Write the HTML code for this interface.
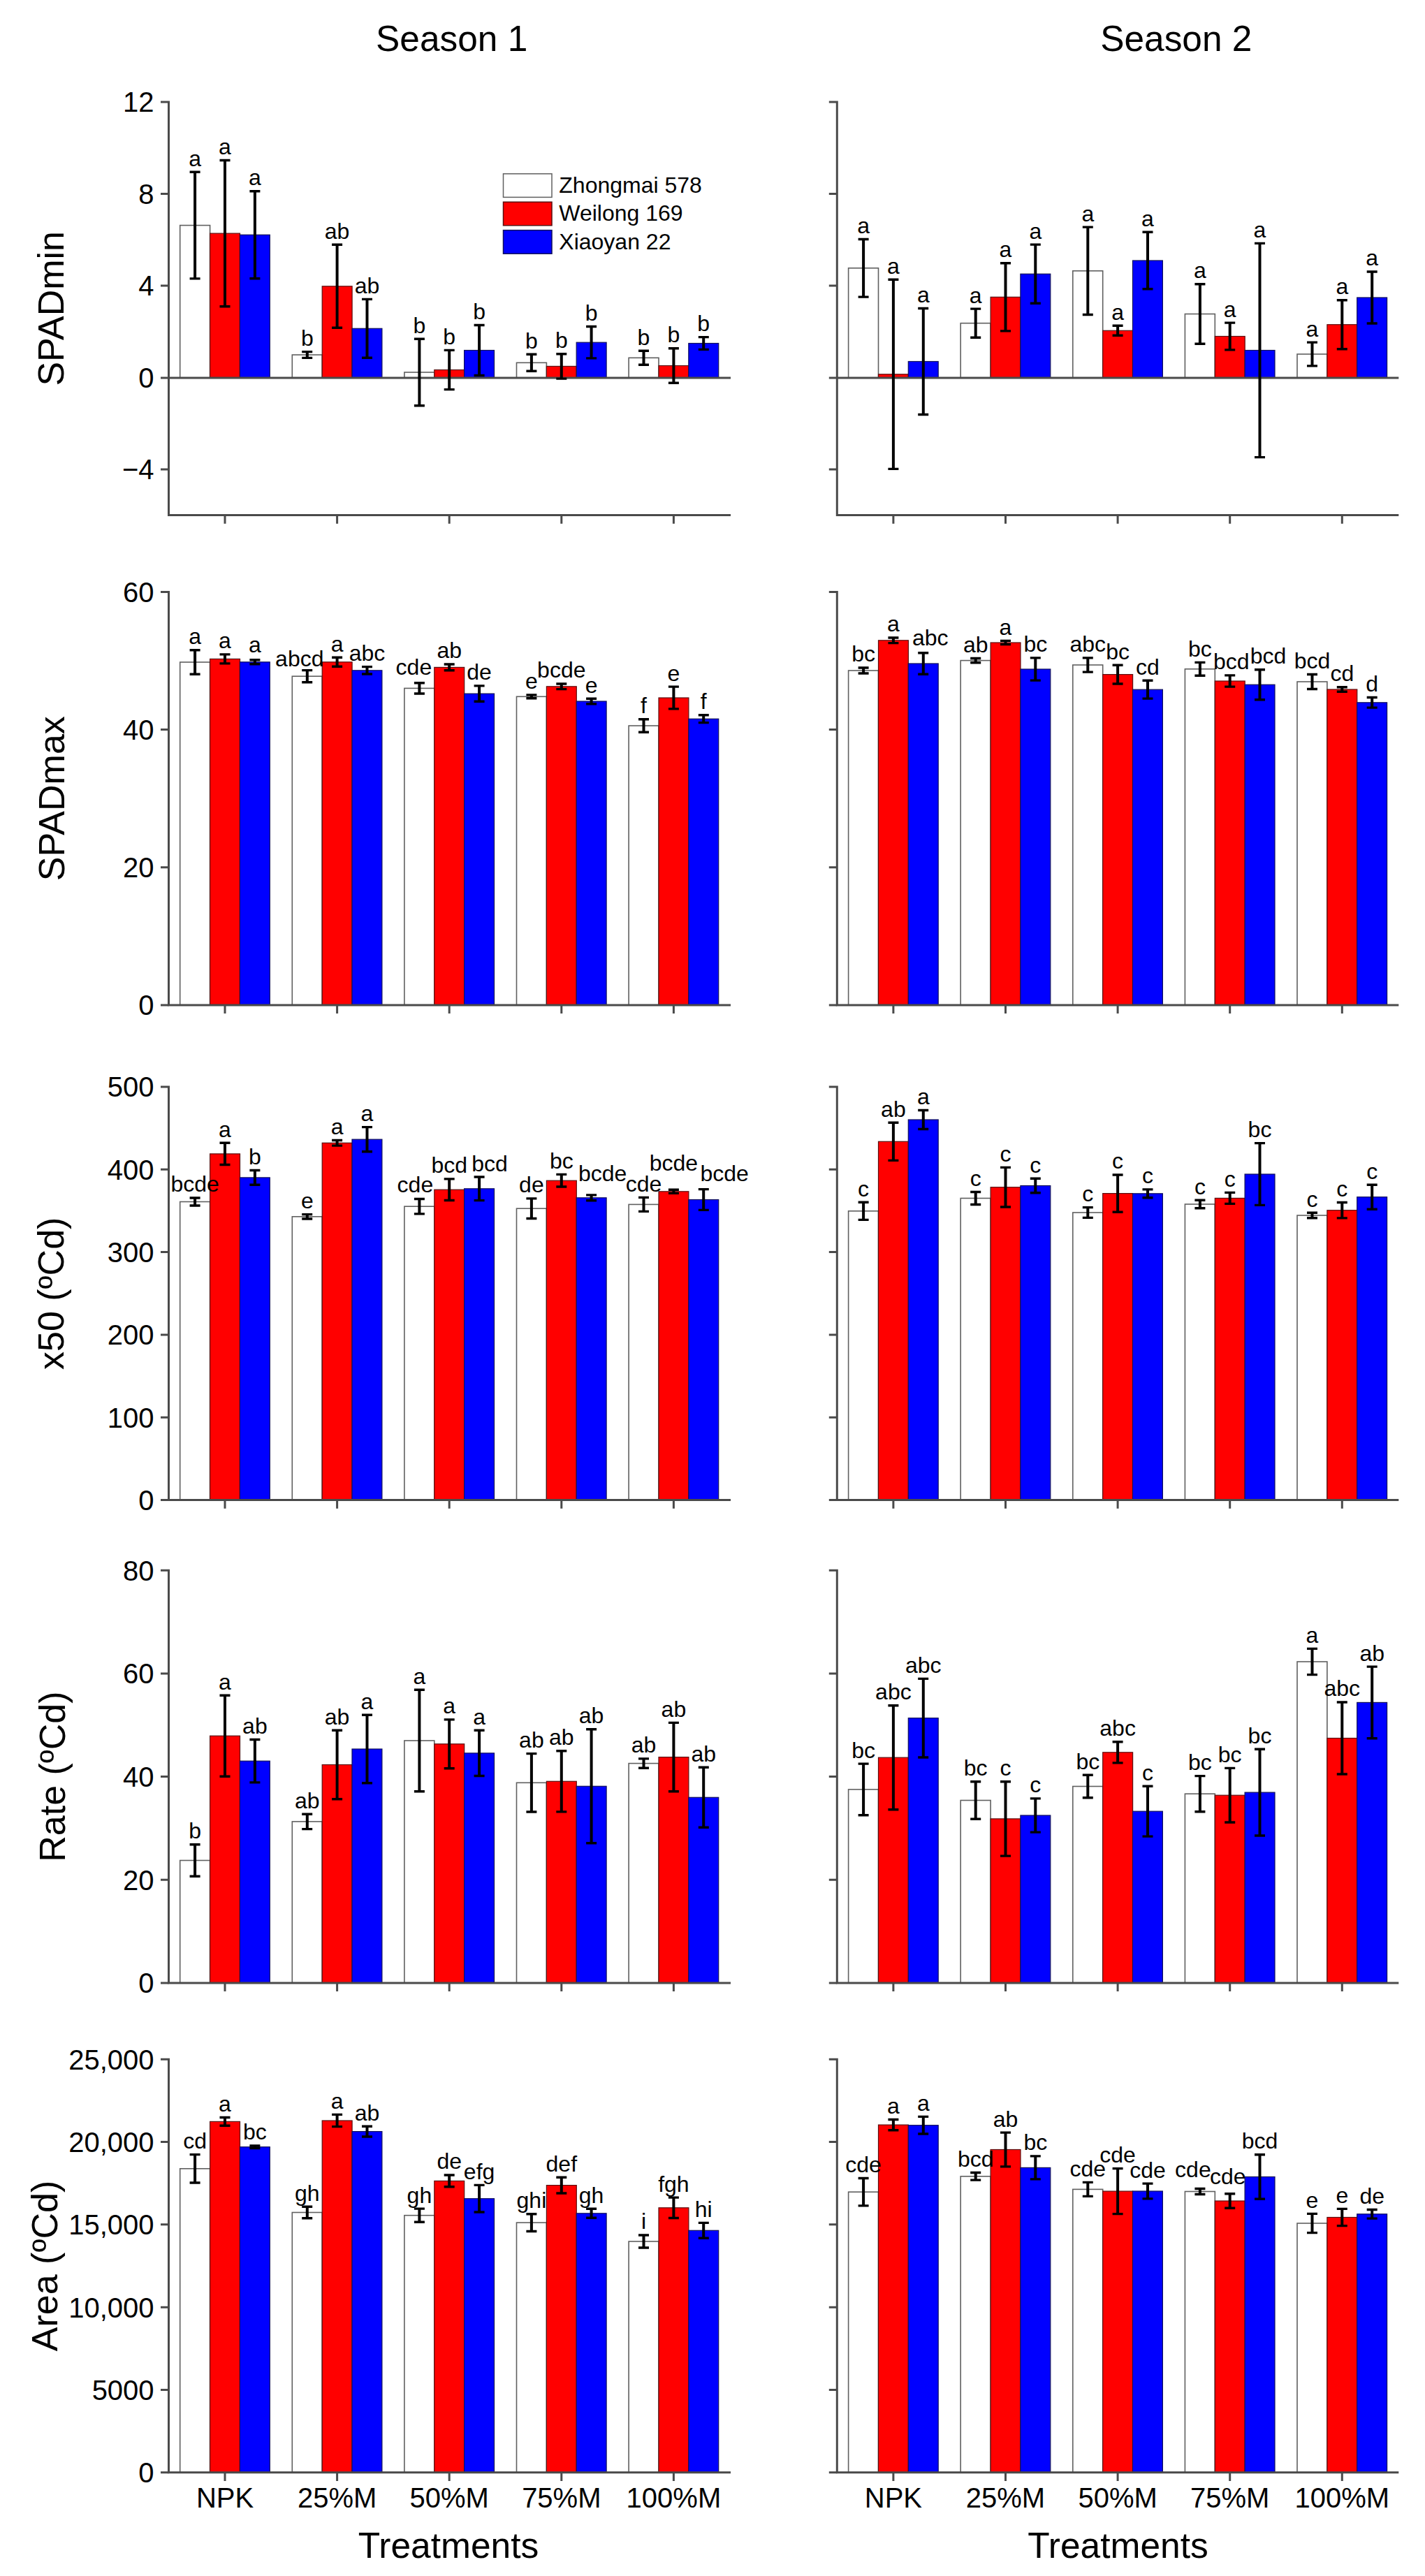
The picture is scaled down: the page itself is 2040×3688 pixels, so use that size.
<!DOCTYPE html>
<html lang="en"><head><meta charset="utf-8"><title>Figure</title>
<style>html,body{margin:0;padding:0;background:#fff}svg{display:block}</style></head>
<body>
<svg width="2040" height="3688" viewBox="0 0 2040 3688" font-family='"Liberation Sans", sans-serif' fill="#000">
<rect width="2040" height="3688" fill="#fff"/>
<text x="538.1" y="73.0" font-size="51.4">Season 1</text>
<text x="1575.2" y="72.8" font-size="51.4">Season 2</text>
<text x="642" y="3661.8" font-size="51.5" text-anchor="middle">Treatments</text>
<text x="1600.5" y="3661.8" font-size="51.5" text-anchor="middle">Treatments</text>
<text transform="translate(91.2 441.8) rotate(-90)" font-size="52" text-anchor="middle">SPADmin</text>
<g><rect x="257.7" y="322.6" width="42.9" height="218.4" fill="#ffffff" stroke="#606060" stroke-width="1.6"/><rect x="300.6" y="334.1" width="42.9" height="206.9" fill="#ff0000" stroke="#5a1010" stroke-width="1.2"/><rect x="343.4" y="336.2" width="42.9" height="204.8" fill="#0000ff" stroke="#10105a" stroke-width="1.2"/><rect x="418.3" y="508.0" width="42.9" height="33.0" fill="#ffffff" stroke="#606060" stroke-width="1.6"/><rect x="461.2" y="409.8" width="42.9" height="131.2" fill="#ff0000" stroke="#5a1010" stroke-width="1.2"/><rect x="504.0" y="470.3" width="42.9" height="70.7" fill="#0000ff" stroke="#10105a" stroke-width="1.2"/><rect x="578.9" y="533.0" width="42.9" height="8.0" fill="#ffffff" stroke="#606060" stroke-width="1.6"/><rect x="621.8" y="529.5" width="42.9" height="11.5" fill="#ff0000" stroke="#5a1010" stroke-width="1.2"/><rect x="664.6" y="501.5" width="42.9" height="39.5" fill="#0000ff" stroke="#10105a" stroke-width="1.2"/><rect x="739.5" y="519.3" width="42.9" height="21.7" fill="#ffffff" stroke="#606060" stroke-width="1.6"/><rect x="782.4" y="524.4" width="42.9" height="16.6" fill="#ff0000" stroke="#5a1010" stroke-width="1.2"/><rect x="825.2" y="490.2" width="42.9" height="50.8" fill="#0000ff" stroke="#10105a" stroke-width="1.2"/><rect x="900.1" y="512.3" width="42.9" height="28.7" fill="#ffffff" stroke="#606060" stroke-width="1.6"/><rect x="943.0" y="523.5" width="42.9" height="17.5" fill="#ff0000" stroke="#5a1010" stroke-width="1.2"/><rect x="985.8" y="491.5" width="42.9" height="49.5" fill="#0000ff" stroke="#10105a" stroke-width="1.2"/><path d="M230.0 146.0H241.5V737.6H1046.0" fill="none" stroke="#4a4a4a" stroke-width="3.0" stroke-linecap="butt" stroke-linejoin="miter"/><path d="M241.5 541.0H1046.0" stroke="#4a4a4a" stroke-width="3.0"/><path d="M230.0 277.5H241.5M230.0 408.9H241.5M230.0 541.0H241.5M230.0 671.9H241.5M322.0 737.6v12.1M482.6 737.6v12.1M643.2 737.6v12.1M803.8 737.6v12.1M964.4 737.6v12.1" stroke="#4a4a4a" stroke-width="3.0" fill="none"/><text transform="translate(220.6 160.3) scale(1 1.03)" font-size="40" text-anchor="end">12</text><text transform="translate(220.6 291.8) scale(1 1.03)" font-size="40" text-anchor="end">8</text><text transform="translate(220.6 423.2) scale(1 1.03)" font-size="40" text-anchor="end">4</text><text transform="translate(220.6 555.3) scale(1 1.03)" font-size="40" text-anchor="end">0</text><text transform="translate(220.6 686.2) scale(1 1.03)" font-size="40" text-anchor="end">−4</text><path d="M279.1 246.3V398.9M322.0 229.5V438.7M364.9 273.7V398.7M439.8 503.6V512.4M482.6 350.3V469.3M525.5 428.4V512.2M600.4 485.3V580.7M643.2 501.4V557.6M686.1 465.5V537.5M760.9 507.3V531.3M803.8 506.7V542.1M846.6 467.5V512.9M921.5 502.3V522.3M964.4 498.8V548.2M1007.2 482.6V500.4" stroke="#000" stroke-width="4.0" fill="none"/><path d="M271.6 246.3h15M271.6 398.9h15M314.5 229.5h15M314.5 438.7h15M357.4 273.7h15M357.4 398.7h15M432.2 503.6h15M432.2 512.4h15M475.1 350.3h15M475.1 469.3h15M518.0 428.4h15M518.0 512.2h15M592.9 485.3h15M592.9 580.7h15M635.7 501.4h15M635.7 557.6h15M678.6 465.5h15M678.6 537.5h15M753.4 507.3h15M753.4 531.3h15M796.3 506.7h15M796.3 542.1h15M839.1 467.5h15M839.1 512.9h15M914.0 502.3h15M914.0 522.3h15M956.9 498.8h15M956.9 548.2h15M999.8 482.6h15M999.8 500.4h15" stroke="#000" stroke-width="3.4" fill="none"/><text x="279.1" y="237.7" font-size="32" text-anchor="middle">a</text><text x="322.0" y="220.9" font-size="32" text-anchor="middle">a</text><text x="364.9" y="265.1" font-size="32" text-anchor="middle">a</text><text x="439.8" y="495.0" font-size="32" text-anchor="middle">b</text><text x="482.6" y="341.7" font-size="32" text-anchor="middle">ab</text><text x="525.5" y="419.8" font-size="32" text-anchor="middle">ab</text><text x="600.4" y="476.7" font-size="32" text-anchor="middle">b</text><text x="643.2" y="492.8" font-size="32" text-anchor="middle">b</text><text x="686.1" y="456.9" font-size="32" text-anchor="middle">b</text><text x="760.9" y="498.7" font-size="32" text-anchor="middle">b</text><text x="803.8" y="498.1" font-size="32" text-anchor="middle">b</text><text x="846.6" y="458.9" font-size="32" text-anchor="middle">b</text><text x="921.5" y="493.7" font-size="32" text-anchor="middle">b</text><text x="964.4" y="490.2" font-size="32" text-anchor="middle">b</text><text x="1007.2" y="474.0" font-size="32" text-anchor="middle">b</text></g>
<g><rect x="1214.6" y="383.8" width="42.9" height="157.2" fill="#ffffff" stroke="#606060" stroke-width="1.6"/><rect x="1257.5" y="535.8" width="42.9" height="5.2" fill="#ff0000" stroke="#5a1010" stroke-width="1.2"/><rect x="1300.3" y="517.5" width="42.9" height="23.5" fill="#0000ff" stroke="#10105a" stroke-width="1.2"/><rect x="1375.2" y="462.7" width="42.9" height="78.3" fill="#ffffff" stroke="#606060" stroke-width="1.6"/><rect x="1418.1" y="425.3" width="42.9" height="115.7" fill="#ff0000" stroke="#5a1010" stroke-width="1.2"/><rect x="1460.9" y="392.2" width="42.9" height="148.8" fill="#0000ff" stroke="#10105a" stroke-width="1.2"/><rect x="1535.8" y="387.8" width="42.9" height="153.2" fill="#ffffff" stroke="#606060" stroke-width="1.6"/><rect x="1578.7" y="473.3" width="42.9" height="67.7" fill="#ff0000" stroke="#5a1010" stroke-width="1.2"/><rect x="1621.5" y="373.0" width="42.9" height="168.0" fill="#0000ff" stroke="#10105a" stroke-width="1.2"/><rect x="1696.4" y="449.5" width="42.9" height="91.5" fill="#ffffff" stroke="#606060" stroke-width="1.6"/><rect x="1739.3" y="481.5" width="42.9" height="59.5" fill="#ff0000" stroke="#5a1010" stroke-width="1.2"/><rect x="1782.1" y="501.5" width="42.9" height="39.5" fill="#0000ff" stroke="#10105a" stroke-width="1.2"/><rect x="1857.0" y="507.0" width="42.9" height="34.0" fill="#ffffff" stroke="#606060" stroke-width="1.6"/><rect x="1899.9" y="464.7" width="42.9" height="76.3" fill="#ff0000" stroke="#5a1010" stroke-width="1.2"/><rect x="1942.7" y="426.0" width="42.9" height="115.0" fill="#0000ff" stroke="#10105a" stroke-width="1.2"/><path d="M1186.8 146.0H1198.3V737.6H2002.3" fill="none" stroke="#4a4a4a" stroke-width="3.0" stroke-linecap="butt" stroke-linejoin="miter"/><path d="M1198.3 541.0H2002.3" stroke="#4a4a4a" stroke-width="3.0"/><path d="M1186.8 277.5H1198.3M1186.8 408.9H1198.3M1186.8 541.0H1198.3M1186.8 671.9H1198.3M1278.9 737.6v12.1M1439.5 737.6v12.1M1600.1 737.6v12.1M1760.7 737.6v12.1M1921.3 737.6v12.1" stroke="#4a4a4a" stroke-width="3.0" fill="none"/><path d="M1236.1 342.5V425.1M1278.9 400.2V671.4M1321.8 441.5V593.5M1396.7 442.1V483.3M1439.5 376.7V473.9M1482.3 350.1V434.3M1557.3 325.1V450.5M1600.1 466.3V480.3M1643.0 332.2V413.8M1717.9 406.7V492.3M1760.7 462.1V500.9M1803.5 348.4V654.6M1878.5 490.1V523.9M1921.3 429.7V499.7M1964.2 389.0V463.0" stroke="#000" stroke-width="4.0" fill="none"/><path d="M1228.6 342.5h15M1228.6 425.1h15M1271.4 400.2h15M1271.4 671.4h15M1314.2 441.5h15M1314.2 593.5h15M1389.2 442.1h15M1389.2 483.3h15M1432.0 376.7h15M1432.0 473.9h15M1474.8 350.1h15M1474.8 434.3h15M1549.8 325.1h15M1549.8 450.5h15M1592.6 466.3h15M1592.6 480.3h15M1635.5 332.2h15M1635.5 413.8h15M1710.4 406.7h15M1710.4 492.3h15M1753.2 462.1h15M1753.2 500.9h15M1796.0 348.4h15M1796.0 654.6h15M1871.0 490.1h15M1871.0 523.9h15M1913.8 429.7h15M1913.8 499.7h15M1956.7 389.0h15M1956.7 463.0h15" stroke="#000" stroke-width="3.4" fill="none"/><text x="1236.1" y="333.9" font-size="32" text-anchor="middle">a</text><text x="1278.9" y="391.6" font-size="32" text-anchor="middle">a</text><text x="1321.8" y="432.9" font-size="32" text-anchor="middle">a</text><text x="1396.7" y="433.5" font-size="32" text-anchor="middle">a</text><text x="1439.5" y="368.1" font-size="32" text-anchor="middle">a</text><text x="1482.3" y="341.5" font-size="32" text-anchor="middle">a</text><text x="1557.3" y="316.5" font-size="32" text-anchor="middle">a</text><text x="1600.1" y="457.7" font-size="32" text-anchor="middle">a</text><text x="1643.0" y="323.6" font-size="32" text-anchor="middle">a</text><text x="1717.9" y="398.1" font-size="32" text-anchor="middle">a</text><text x="1760.7" y="453.5" font-size="32" text-anchor="middle">a</text><text x="1803.5" y="339.8" font-size="32" text-anchor="middle">a</text><text x="1878.5" y="481.5" font-size="32" text-anchor="middle">a</text><text x="1921.3" y="421.1" font-size="32" text-anchor="middle">a</text><text x="1964.2" y="380.4" font-size="32" text-anchor="middle">a</text></g>
<text transform="translate(91.6 1143.2) rotate(-90)" font-size="52" text-anchor="middle">SPADmax</text>
<g><rect x="257.7" y="948.0" width="42.9" height="490.9" fill="#ffffff" stroke="#606060" stroke-width="1.6"/><rect x="300.6" y="943.4" width="42.9" height="495.5" fill="#ff0000" stroke="#5a1010" stroke-width="1.2"/><rect x="343.4" y="947.8" width="42.9" height="491.1" fill="#0000ff" stroke="#10105a" stroke-width="1.2"/><rect x="418.3" y="968.2" width="42.9" height="470.7" fill="#ffffff" stroke="#606060" stroke-width="1.6"/><rect x="461.2" y="947.8" width="42.9" height="491.1" fill="#ff0000" stroke="#5a1010" stroke-width="1.2"/><rect x="504.0" y="959.8" width="42.9" height="479.1" fill="#0000ff" stroke="#10105a" stroke-width="1.2"/><rect x="578.9" y="985.4" width="42.9" height="453.5" fill="#ffffff" stroke="#606060" stroke-width="1.6"/><rect x="621.8" y="955.4" width="42.9" height="483.5" fill="#ff0000" stroke="#5a1010" stroke-width="1.2"/><rect x="664.6" y="993.1" width="42.9" height="445.8" fill="#0000ff" stroke="#10105a" stroke-width="1.2"/><rect x="739.5" y="997.3" width="42.9" height="441.6" fill="#ffffff" stroke="#606060" stroke-width="1.6"/><rect x="782.4" y="982.8" width="42.9" height="456.1" fill="#ff0000" stroke="#5a1010" stroke-width="1.2"/><rect x="825.2" y="1004.0" width="42.9" height="434.9" fill="#0000ff" stroke="#10105a" stroke-width="1.2"/><rect x="900.1" y="1039.0" width="42.9" height="399.9" fill="#ffffff" stroke="#606060" stroke-width="1.6"/><rect x="943.0" y="999.0" width="42.9" height="439.9" fill="#ff0000" stroke="#5a1010" stroke-width="1.2"/><rect x="985.8" y="1029.2" width="42.9" height="409.7" fill="#0000ff" stroke="#10105a" stroke-width="1.2"/><path d="M230.0 847.4H241.5V1438.9H1046.0" fill="none" stroke="#4a4a4a" stroke-width="3.0" stroke-linecap="butt" stroke-linejoin="miter"/><path d="M230.0 1044.6H241.5M230.0 1241.7H241.5M230.0 1438.9H241.5M322.0 1438.9v12.1M482.6 1438.9v12.1M643.2 1438.9v12.1M803.8 1438.9v12.1M964.4 1438.9v12.1" stroke="#4a4a4a" stroke-width="3.0" fill="none"/><text transform="translate(220.6 861.7) scale(1 1.03)" font-size="40" text-anchor="end">60</text><text transform="translate(220.6 1058.9) scale(1 1.03)" font-size="40" text-anchor="end">40</text><text transform="translate(220.6 1256.0) scale(1 1.03)" font-size="40" text-anchor="end">20</text><text transform="translate(220.6 1453.2) scale(1 1.03)" font-size="40" text-anchor="end">0</text><path d="M279.1 930.7V965.3M322.0 936.9V949.9M364.9 944.8V950.8M439.8 959.6V976.8M482.6 941.3V954.3M525.5 954.6V965.0M600.4 977.8V993.0M643.2 951.0V959.8M686.1 981.9V1004.3M760.9 994.9V999.7M803.8 979.0V986.6M846.6 1000.2V1007.8M921.5 1029.7V1048.3M964.4 983.1V1014.9M1007.2 1023.8V1034.6" stroke="#000" stroke-width="4.0" fill="none"/><path d="M271.6 930.7h15M271.6 965.3h15M314.5 936.9h15M314.5 949.9h15M357.4 944.8h15M357.4 950.8h15M432.2 959.6h15M432.2 976.8h15M475.1 941.3h15M475.1 954.3h15M518.0 954.6h15M518.0 965.0h15M592.9 977.8h15M592.9 993.0h15M635.7 951.0h15M635.7 959.8h15M678.6 981.9h15M678.6 1004.3h15M753.4 994.9h15M753.4 999.7h15M796.3 979.0h15M796.3 986.6h15M839.1 1000.2h15M839.1 1007.8h15M914.0 1029.7h15M914.0 1048.3h15M956.9 983.1h15M956.9 1014.9h15M999.8 1023.8h15M999.8 1034.6h15" stroke="#000" stroke-width="3.4" fill="none"/><text x="279.1" y="922.1" font-size="32" text-anchor="middle">a</text><text x="322.0" y="928.3" font-size="32" text-anchor="middle">a</text><text x="364.9" y="933.5" font-size="32" text-anchor="middle">a</text><text x="428.8" y="953.7" font-size="32" text-anchor="middle">abcd</text><text x="482.6" y="932.7" font-size="32" text-anchor="middle">a</text><text x="525.5" y="946.0" font-size="32" text-anchor="middle">abc</text><text x="592.4" y="965.5" font-size="32" text-anchor="middle">cde</text><text x="643.2" y="942.4" font-size="32" text-anchor="middle">ab</text><text x="686.1" y="973.3" font-size="32" text-anchor="middle">de</text><text x="760.9" y="986.3" font-size="32" text-anchor="middle">e</text><text x="803.8" y="970.4" font-size="32" text-anchor="middle">bcde</text><text x="846.6" y="991.6" font-size="32" text-anchor="middle">e</text><text x="921.5" y="1021.1" font-size="32" text-anchor="middle">f</text><text x="964.4" y="974.5" font-size="32" text-anchor="middle">e</text><text x="1007.2" y="1015.2" font-size="32" text-anchor="middle">f</text></g>
<g><rect x="1214.6" y="960.0" width="42.9" height="478.9" fill="#ffffff" stroke="#606060" stroke-width="1.6"/><rect x="1257.5" y="916.8" width="42.9" height="522.1" fill="#ff0000" stroke="#5a1010" stroke-width="1.2"/><rect x="1300.3" y="950.0" width="42.9" height="488.9" fill="#0000ff" stroke="#10105a" stroke-width="1.2"/><rect x="1375.2" y="945.6" width="42.9" height="493.3" fill="#ffffff" stroke="#606060" stroke-width="1.6"/><rect x="1418.1" y="920.0" width="42.9" height="518.9" fill="#ff0000" stroke="#5a1010" stroke-width="1.2"/><rect x="1460.9" y="958.0" width="42.9" height="480.9" fill="#0000ff" stroke="#10105a" stroke-width="1.2"/><rect x="1535.8" y="952.0" width="42.9" height="486.9" fill="#ffffff" stroke="#606060" stroke-width="1.6"/><rect x="1578.7" y="965.6" width="42.9" height="473.3" fill="#ff0000" stroke="#5a1010" stroke-width="1.2"/><rect x="1621.5" y="987.2" width="42.9" height="451.7" fill="#0000ff" stroke="#10105a" stroke-width="1.2"/><rect x="1696.4" y="957.8" width="42.9" height="481.1" fill="#ffffff" stroke="#606060" stroke-width="1.6"/><rect x="1739.3" y="975.0" width="42.9" height="463.9" fill="#ff0000" stroke="#5a1010" stroke-width="1.2"/><rect x="1782.1" y="980.2" width="42.9" height="458.7" fill="#0000ff" stroke="#10105a" stroke-width="1.2"/><rect x="1857.0" y="976.0" width="42.9" height="462.9" fill="#ffffff" stroke="#606060" stroke-width="1.6"/><rect x="1899.9" y="987.0" width="42.9" height="451.9" fill="#ff0000" stroke="#5a1010" stroke-width="1.2"/><rect x="1942.7" y="1005.8" width="42.9" height="433.1" fill="#0000ff" stroke="#10105a" stroke-width="1.2"/><path d="M1186.8 847.4H1198.3V1438.9H2002.3" fill="none" stroke="#4a4a4a" stroke-width="3.0" stroke-linecap="butt" stroke-linejoin="miter"/><path d="M1186.8 1044.6H1198.3M1186.8 1241.7H1198.3M1186.8 1438.9H1198.3M1278.9 1438.9v12.1M1439.5 1438.9v12.1M1600.1 1438.9v12.1M1760.7 1438.9v12.1M1921.3 1438.9v12.1" stroke="#4a4a4a" stroke-width="3.0" fill="none"/><path d="M1236.1 956.0V964.0M1278.9 913.0V920.6M1321.8 934.8V965.2M1396.7 942.5V948.7M1439.5 917.4V922.6M1482.3 941.9V974.1M1557.3 941.9V962.1M1600.1 952.2V979.0M1643.0 974.3V1000.1M1717.9 948.4V967.2M1760.7 966.9V983.1M1803.5 958.7V1001.7M1878.5 965.5V986.5M1921.3 983.7V990.3M1964.2 998.5V1013.1" stroke="#000" stroke-width="4.0" fill="none"/><path d="M1228.6 956.0h15M1228.6 964.0h15M1271.4 913.0h15M1271.4 920.6h15M1314.2 934.8h15M1314.2 965.2h15M1389.2 942.5h15M1389.2 948.7h15M1432.0 917.4h15M1432.0 922.6h15M1474.8 941.9h15M1474.8 974.1h15M1549.8 941.9h15M1549.8 962.1h15M1592.6 952.2h15M1592.6 979.0h15M1635.5 974.3h15M1635.5 1000.1h15M1710.4 948.4h15M1710.4 967.2h15M1753.2 966.9h15M1753.2 983.1h15M1796.0 958.7h15M1796.0 1001.7h15M1871.0 965.5h15M1871.0 986.5h15M1913.8 983.7h15M1913.8 990.3h15M1956.7 998.5h15M1956.7 1013.1h15" stroke="#000" stroke-width="3.4" fill="none"/><text x="1236.1" y="947.4" font-size="32" text-anchor="middle">bc</text><text x="1278.9" y="904.4" font-size="32" text-anchor="middle">a</text><text x="1331.8" y="923.6" font-size="32" text-anchor="middle">abc</text><text x="1396.7" y="933.9" font-size="32" text-anchor="middle">ab</text><text x="1439.5" y="908.8" font-size="32" text-anchor="middle">a</text><text x="1482.3" y="933.3" font-size="32" text-anchor="middle">bc</text><text x="1557.3" y="933.3" font-size="32" text-anchor="middle">abc</text><text x="1600.1" y="943.6" font-size="32" text-anchor="middle">bc</text><text x="1643.0" y="965.7" font-size="32" text-anchor="middle">cd</text><text x="1717.9" y="939.8" font-size="32" text-anchor="middle">bc</text><text x="1762.7" y="958.1" font-size="32" text-anchor="middle">bcd</text><text x="1815.5" y="950.1" font-size="32" text-anchor="middle">bcd</text><text x="1878.5" y="956.9" font-size="32" text-anchor="middle">bcd</text><text x="1921.3" y="975.1" font-size="32" text-anchor="middle">cd</text><text x="1964.2" y="989.9" font-size="32" text-anchor="middle">d</text></g>
<text transform="translate(91.0 1851.8) rotate(-90)" font-size="52" text-anchor="middle">x50 (ºCd)</text>
<g><rect x="257.7" y="1720.5" width="42.9" height="427.1" fill="#ffffff" stroke="#606060" stroke-width="1.6"/><rect x="300.6" y="1651.9" width="42.9" height="495.7" fill="#ff0000" stroke="#5a1010" stroke-width="1.2"/><rect x="343.4" y="1685.9" width="42.9" height="461.7" fill="#0000ff" stroke="#10105a" stroke-width="1.2"/><rect x="418.3" y="1741.8" width="42.9" height="405.8" fill="#ffffff" stroke="#606060" stroke-width="1.6"/><rect x="461.2" y="1636.3" width="42.9" height="511.3" fill="#ff0000" stroke="#5a1010" stroke-width="1.2"/><rect x="504.0" y="1631.2" width="42.9" height="516.4" fill="#0000ff" stroke="#10105a" stroke-width="1.2"/><rect x="578.9" y="1727.2" width="42.9" height="420.4" fill="#ffffff" stroke="#606060" stroke-width="1.6"/><rect x="621.8" y="1703.2" width="42.9" height="444.4" fill="#ff0000" stroke="#5a1010" stroke-width="1.2"/><rect x="664.6" y="1701.8" width="42.9" height="445.8" fill="#0000ff" stroke="#10105a" stroke-width="1.2"/><rect x="739.5" y="1730.2" width="42.9" height="417.4" fill="#ffffff" stroke="#606060" stroke-width="1.6"/><rect x="782.4" y="1690.2" width="42.9" height="457.4" fill="#ff0000" stroke="#5a1010" stroke-width="1.2"/><rect x="825.2" y="1714.8" width="42.9" height="432.8" fill="#0000ff" stroke="#10105a" stroke-width="1.2"/><rect x="900.1" y="1724.4" width="42.9" height="423.2" fill="#ffffff" stroke="#606060" stroke-width="1.6"/><rect x="943.0" y="1705.8" width="42.9" height="441.8" fill="#ff0000" stroke="#5a1010" stroke-width="1.2"/><rect x="985.8" y="1717.5" width="42.9" height="430.1" fill="#0000ff" stroke="#10105a" stroke-width="1.2"/><path d="M230.0 1556.0H241.5V2147.6H1046.0" fill="none" stroke="#4a4a4a" stroke-width="3.0" stroke-linecap="butt" stroke-linejoin="miter"/><path d="M230.0 1674.3H241.5M230.0 1792.6H241.5M230.0 1911.0H241.5M230.0 2029.3H241.5M230.0 2147.6H241.5M322.0 2147.6v12.1M482.6 2147.6v12.1M643.2 2147.6v12.1M803.8 2147.6v12.1M964.4 2147.6v12.1" stroke="#4a4a4a" stroke-width="3.0" fill="none"/><text transform="translate(220.6 1570.3) scale(1 1.03)" font-size="40" text-anchor="end">500</text><text transform="translate(220.6 1688.6) scale(1 1.03)" font-size="40" text-anchor="end">400</text><text transform="translate(220.6 1806.9) scale(1 1.03)" font-size="40" text-anchor="end">300</text><text transform="translate(220.6 1925.3) scale(1 1.03)" font-size="40" text-anchor="end">200</text><text transform="translate(220.6 2043.6) scale(1 1.03)" font-size="40" text-anchor="end">100</text><text transform="translate(220.6 2161.9) scale(1 1.03)" font-size="40" text-anchor="end">0</text><path d="M279.1 1715.0V1726.0M322.0 1636.3V1667.5M364.9 1675.5V1696.3M439.8 1738.6V1745.0M482.6 1632.5V1640.1M525.5 1613.6V1648.8M600.4 1716.5V1737.9M643.2 1687.9V1718.5M686.1 1685.0V1718.6M760.9 1715.9V1744.5M803.8 1681.4V1699.0M846.6 1710.9V1718.7M921.5 1714.4V1734.4M964.4 1703.2V1708.4M1007.2 1702.6V1732.4" stroke="#000" stroke-width="4.0" fill="none"/><path d="M271.6 1715.0h15M271.6 1726.0h15M314.5 1636.3h15M314.5 1667.5h15M357.4 1675.5h15M357.4 1696.3h15M432.2 1738.6h15M432.2 1745.0h15M475.1 1632.5h15M475.1 1640.1h15M518.0 1613.6h15M518.0 1648.8h15M592.9 1716.5h15M592.9 1737.9h15M635.7 1687.9h15M635.7 1718.5h15M678.6 1685.0h15M678.6 1718.6h15M753.4 1715.9h15M753.4 1744.5h15M796.3 1681.4h15M796.3 1699.0h15M839.1 1710.9h15M839.1 1718.7h15M914.0 1714.4h15M914.0 1734.4h15M956.9 1703.2h15M956.9 1708.4h15M999.8 1702.6h15M999.8 1732.4h15" stroke="#000" stroke-width="3.4" fill="none"/><text x="279.1" y="1706.4" font-size="32" text-anchor="middle">bcde</text><text x="322.0" y="1627.7" font-size="32" text-anchor="middle">a</text><text x="364.9" y="1666.9" font-size="32" text-anchor="middle">b</text><text x="439.8" y="1730.0" font-size="32" text-anchor="middle">e</text><text x="482.6" y="1623.9" font-size="32" text-anchor="middle">a</text><text x="525.5" y="1605.0" font-size="32" text-anchor="middle">a</text><text x="594.4" y="1707.0" font-size="32" text-anchor="middle">cde</text><text x="643.2" y="1679.3" font-size="32" text-anchor="middle">bcd</text><text x="701.1" y="1676.7" font-size="32" text-anchor="middle">bcd</text><text x="760.9" y="1707.3" font-size="32" text-anchor="middle">de</text><text x="803.8" y="1672.8" font-size="32" text-anchor="middle">bc</text><text x="862.6" y="1690.8" font-size="32" text-anchor="middle">bcde</text><text x="921.5" y="1705.8" font-size="32" text-anchor="middle">cde</text><text x="964.4" y="1675.5" font-size="32" text-anchor="middle">bcde</text><text x="1037.2" y="1690.8" font-size="32" text-anchor="middle">bcde</text></g>
<g><rect x="1214.6" y="1733.8" width="42.9" height="413.8" fill="#ffffff" stroke="#606060" stroke-width="1.6"/><rect x="1257.5" y="1634.3" width="42.9" height="513.3" fill="#ff0000" stroke="#5a1010" stroke-width="1.2"/><rect x="1300.3" y="1603.0" width="42.9" height="544.6" fill="#0000ff" stroke="#10105a" stroke-width="1.2"/><rect x="1375.2" y="1715.5" width="42.9" height="432.1" fill="#ffffff" stroke="#606060" stroke-width="1.6"/><rect x="1418.1" y="1699.7" width="42.9" height="447.9" fill="#ff0000" stroke="#5a1010" stroke-width="1.2"/><rect x="1460.9" y="1697.5" width="42.9" height="450.1" fill="#0000ff" stroke="#10105a" stroke-width="1.2"/><rect x="1535.8" y="1736.0" width="42.9" height="411.6" fill="#ffffff" stroke="#606060" stroke-width="1.6"/><rect x="1578.7" y="1708.6" width="42.9" height="439.0" fill="#ff0000" stroke="#5a1010" stroke-width="1.2"/><rect x="1621.5" y="1708.8" width="42.9" height="438.8" fill="#0000ff" stroke="#10105a" stroke-width="1.2"/><rect x="1696.4" y="1724.0" width="42.9" height="423.6" fill="#ffffff" stroke="#606060" stroke-width="1.6"/><rect x="1739.3" y="1715.4" width="42.9" height="432.2" fill="#ff0000" stroke="#5a1010" stroke-width="1.2"/><rect x="1782.1" y="1681.0" width="42.9" height="466.6" fill="#0000ff" stroke="#10105a" stroke-width="1.2"/><rect x="1857.0" y="1740.0" width="42.9" height="407.6" fill="#ffffff" stroke="#606060" stroke-width="1.6"/><rect x="1899.9" y="1732.7" width="42.9" height="414.9" fill="#ff0000" stroke="#5a1010" stroke-width="1.2"/><rect x="1942.7" y="1713.7" width="42.9" height="433.9" fill="#0000ff" stroke="#10105a" stroke-width="1.2"/><path d="M1186.8 1556.0H1198.3V2147.6H2002.3" fill="none" stroke="#4a4a4a" stroke-width="3.0" stroke-linecap="butt" stroke-linejoin="miter"/><path d="M1186.8 1674.3H1198.3M1186.8 1792.6H1198.3M1186.8 1911.0H1198.3M1186.8 2029.3H1198.3M1186.8 2147.6H1198.3M1278.9 2147.6v12.1M1439.5 2147.6v12.1M1600.1 2147.6v12.1M1760.7 2147.6v12.1M1921.3 2147.6v12.1" stroke="#4a4a4a" stroke-width="3.0" fill="none"/><path d="M1236.1 1721.2V1746.4M1278.9 1607.2V1661.4M1321.8 1589.5V1616.5M1396.7 1706.5V1724.5M1439.5 1671.4V1728.0M1482.3 1687.3V1707.7M1557.3 1728.6V1743.4M1600.1 1682.0V1735.2M1643.0 1702.9V1714.7M1717.9 1718.3V1729.7M1760.7 1707.4V1723.4M1803.5 1636.6V1725.4M1878.5 1736.2V1743.8M1921.3 1721.5V1743.9M1964.2 1696.2V1731.2" stroke="#000" stroke-width="4.0" fill="none"/><path d="M1228.6 1721.2h15M1228.6 1746.4h15M1271.4 1607.2h15M1271.4 1661.4h15M1314.2 1589.5h15M1314.2 1616.5h15M1389.2 1706.5h15M1389.2 1724.5h15M1432.0 1671.4h15M1432.0 1728.0h15M1474.8 1687.3h15M1474.8 1707.7h15M1549.8 1728.6h15M1549.8 1743.4h15M1592.6 1682.0h15M1592.6 1735.2h15M1635.5 1702.9h15M1635.5 1714.7h15M1710.4 1718.3h15M1710.4 1729.7h15M1753.2 1707.4h15M1753.2 1723.4h15M1796.0 1636.6h15M1796.0 1725.4h15M1871.0 1736.2h15M1871.0 1743.8h15M1913.8 1721.5h15M1913.8 1743.9h15M1956.7 1696.2h15M1956.7 1731.2h15" stroke="#000" stroke-width="3.4" fill="none"/><text x="1236.1" y="1712.6" font-size="32" text-anchor="middle">c</text><text x="1278.9" y="1598.6" font-size="32" text-anchor="middle">ab</text><text x="1321.8" y="1580.9" font-size="32" text-anchor="middle">a</text><text x="1396.7" y="1697.9" font-size="32" text-anchor="middle">c</text><text x="1439.5" y="1662.8" font-size="32" text-anchor="middle">c</text><text x="1482.3" y="1678.7" font-size="32" text-anchor="middle">c</text><text x="1557.3" y="1720.0" font-size="32" text-anchor="middle">c</text><text x="1600.1" y="1673.4" font-size="32" text-anchor="middle">c</text><text x="1643.0" y="1694.3" font-size="32" text-anchor="middle">c</text><text x="1717.9" y="1709.7" font-size="32" text-anchor="middle">c</text><text x="1760.7" y="1698.8" font-size="32" text-anchor="middle">c</text><text x="1803.5" y="1628.0" font-size="32" text-anchor="middle">bc</text><text x="1878.5" y="1727.6" font-size="32" text-anchor="middle">c</text><text x="1921.3" y="1712.9" font-size="32" text-anchor="middle">c</text><text x="1964.2" y="1687.6" font-size="32" text-anchor="middle">c</text></g>
<text transform="translate(92.6 2543.6) rotate(-90)" font-size="52" text-anchor="middle">Rate (ºCd)</text>
<g><rect x="257.7" y="2663.5" width="42.9" height="175.5" fill="#ffffff" stroke="#606060" stroke-width="1.6"/><rect x="300.6" y="2485.2" width="42.9" height="353.8" fill="#ff0000" stroke="#5a1010" stroke-width="1.2"/><rect x="343.4" y="2521.2" width="42.9" height="317.8" fill="#0000ff" stroke="#10105a" stroke-width="1.2"/><rect x="418.3" y="2607.9" width="42.9" height="231.1" fill="#ffffff" stroke="#606060" stroke-width="1.6"/><rect x="461.2" y="2526.5" width="42.9" height="312.5" fill="#ff0000" stroke="#5a1010" stroke-width="1.2"/><rect x="504.0" y="2504.0" width="42.9" height="335.0" fill="#0000ff" stroke="#10105a" stroke-width="1.2"/><rect x="578.9" y="2492.0" width="42.9" height="347.0" fill="#ffffff" stroke="#606060" stroke-width="1.6"/><rect x="621.8" y="2496.8" width="42.9" height="342.2" fill="#ff0000" stroke="#5a1010" stroke-width="1.2"/><rect x="664.6" y="2509.9" width="42.9" height="329.1" fill="#0000ff" stroke="#10105a" stroke-width="1.2"/><rect x="739.5" y="2552.3" width="42.9" height="286.7" fill="#ffffff" stroke="#606060" stroke-width="1.6"/><rect x="782.4" y="2550.3" width="42.9" height="288.7" fill="#ff0000" stroke="#5a1010" stroke-width="1.2"/><rect x="825.2" y="2557.3" width="42.9" height="281.7" fill="#0000ff" stroke="#10105a" stroke-width="1.2"/><rect x="900.1" y="2524.6" width="42.9" height="314.4" fill="#ffffff" stroke="#606060" stroke-width="1.6"/><rect x="943.0" y="2515.6" width="42.9" height="323.4" fill="#ff0000" stroke="#5a1010" stroke-width="1.2"/><rect x="985.8" y="2573.3" width="42.9" height="265.7" fill="#0000ff" stroke="#10105a" stroke-width="1.2"/><path d="M230.0 2248.2H241.5V2839.0H1046.0" fill="none" stroke="#4a4a4a" stroke-width="3.0" stroke-linecap="butt" stroke-linejoin="miter"/><path d="M230.0 2395.9H241.5M230.0 2543.6H241.5M230.0 2691.3H241.5M230.0 2839.0H241.5M322.0 2839.0v12.1M482.6 2839.0v12.1M643.2 2839.0v12.1M803.8 2839.0v12.1M964.4 2839.0v12.1" stroke="#4a4a4a" stroke-width="3.0" fill="none"/><text transform="translate(220.6 2262.5) scale(1 1.03)" font-size="40" text-anchor="end">80</text><text transform="translate(220.6 2410.2) scale(1 1.03)" font-size="40" text-anchor="end">60</text><text transform="translate(220.6 2557.9) scale(1 1.03)" font-size="40" text-anchor="end">40</text><text transform="translate(220.6 2705.6) scale(1 1.03)" font-size="40" text-anchor="end">20</text><text transform="translate(220.6 2853.3) scale(1 1.03)" font-size="40" text-anchor="end">0</text><path d="M279.1 2640.8V2686.2M322.0 2427.2V2543.2M364.9 2490.5V2551.9M439.8 2597.2V2618.6M482.6 2477.3V2575.7M525.5 2455.2V2552.8M600.4 2419.2V2564.8M643.2 2461.9V2531.7M686.1 2477.3V2542.5M760.9 2510.6V2594.0M803.8 2506.7V2593.9M846.6 2475.8V2638.8M921.5 2517.9V2531.3M964.4 2466.4V2564.8M1007.2 2530.3V2616.3" stroke="#000" stroke-width="4.0" fill="none"/><path d="M271.6 2640.8h15M271.6 2686.2h15M314.5 2427.2h15M314.5 2543.2h15M357.4 2490.5h15M357.4 2551.9h15M432.2 2597.2h15M432.2 2618.6h15M475.1 2477.3h15M475.1 2575.7h15M518.0 2455.2h15M518.0 2552.8h15M592.9 2419.2h15M592.9 2564.8h15M635.7 2461.9h15M635.7 2531.7h15M678.6 2477.3h15M678.6 2542.5h15M753.4 2510.6h15M753.4 2594.0h15M796.3 2506.7h15M796.3 2593.9h15M839.1 2475.8h15M839.1 2638.8h15M914.0 2517.9h15M914.0 2531.3h15M956.9 2466.4h15M956.9 2564.8h15M999.8 2530.3h15M999.8 2616.3h15" stroke="#000" stroke-width="3.4" fill="none"/><text x="279.1" y="2632.2" font-size="32" text-anchor="middle">b</text><text x="322.0" y="2418.6" font-size="32" text-anchor="middle">a</text><text x="364.9" y="2481.9" font-size="32" text-anchor="middle">ab</text><text x="439.8" y="2588.6" font-size="32" text-anchor="middle">ab</text><text x="482.6" y="2468.7" font-size="32" text-anchor="middle">ab</text><text x="525.5" y="2446.6" font-size="32" text-anchor="middle">a</text><text x="600.4" y="2410.6" font-size="32" text-anchor="middle">a</text><text x="643.2" y="2453.3" font-size="32" text-anchor="middle">a</text><text x="686.1" y="2468.7" font-size="32" text-anchor="middle">a</text><text x="760.9" y="2502.0" font-size="32" text-anchor="middle">ab</text><text x="803.8" y="2498.1" font-size="32" text-anchor="middle">ab</text><text x="846.6" y="2467.2" font-size="32" text-anchor="middle">ab</text><text x="921.5" y="2509.3" font-size="32" text-anchor="middle">ab</text><text x="964.4" y="2457.8" font-size="32" text-anchor="middle">ab</text><text x="1007.2" y="2521.7" font-size="32" text-anchor="middle">ab</text></g>
<g><rect x="1214.6" y="2561.9" width="42.9" height="277.1" fill="#ffffff" stroke="#606060" stroke-width="1.6"/><rect x="1257.5" y="2516.2" width="42.9" height="322.8" fill="#ff0000" stroke="#5a1010" stroke-width="1.2"/><rect x="1300.3" y="2459.7" width="42.9" height="379.3" fill="#0000ff" stroke="#10105a" stroke-width="1.2"/><rect x="1375.2" y="2577.5" width="42.9" height="261.5" fill="#ffffff" stroke="#606060" stroke-width="1.6"/><rect x="1418.1" y="2603.9" width="42.9" height="235.1" fill="#ff0000" stroke="#5a1010" stroke-width="1.2"/><rect x="1460.9" y="2599.0" width="42.9" height="240.0" fill="#0000ff" stroke="#10105a" stroke-width="1.2"/><rect x="1535.8" y="2557.5" width="42.9" height="281.5" fill="#ffffff" stroke="#606060" stroke-width="1.6"/><rect x="1578.7" y="2508.8" width="42.9" height="330.2" fill="#ff0000" stroke="#5a1010" stroke-width="1.2"/><rect x="1621.5" y="2593.2" width="42.9" height="245.8" fill="#0000ff" stroke="#10105a" stroke-width="1.2"/><rect x="1696.4" y="2568.2" width="42.9" height="270.8" fill="#ffffff" stroke="#606060" stroke-width="1.6"/><rect x="1739.3" y="2570.2" width="42.9" height="268.8" fill="#ff0000" stroke="#5a1010" stroke-width="1.2"/><rect x="1782.1" y="2566.1" width="42.9" height="272.9" fill="#0000ff" stroke="#10105a" stroke-width="1.2"/><rect x="1857.0" y="2379.0" width="42.9" height="460.0" fill="#ffffff" stroke="#606060" stroke-width="1.6"/><rect x="1899.9" y="2488.5" width="42.9" height="350.5" fill="#ff0000" stroke="#5a1010" stroke-width="1.2"/><rect x="1942.7" y="2437.4" width="42.9" height="401.6" fill="#0000ff" stroke="#10105a" stroke-width="1.2"/><path d="M1186.8 2248.2H1198.3V2839.0H2002.3" fill="none" stroke="#4a4a4a" stroke-width="3.0" stroke-linecap="butt" stroke-linejoin="miter"/><path d="M1186.8 2395.9H1198.3M1186.8 2543.6H1198.3M1186.8 2691.3H1198.3M1186.8 2839.0H1198.3M1278.9 2839.0v12.1M1439.5 2839.0v12.1M1600.1 2839.0v12.1M1760.7 2839.0v12.1M1921.3 2839.0v12.1" stroke="#4a4a4a" stroke-width="3.0" fill="none"/><path d="M1236.1 2525.1V2598.7M1278.9 2441.7V2590.7M1321.8 2403.4V2516.0M1396.7 2550.7V2604.3M1439.5 2550.7V2657.1M1482.3 2574.9V2623.1M1557.3 2541.3V2573.7M1600.1 2493.7V2523.9M1643.0 2557.3V2629.1M1717.9 2542.6V2593.8M1760.7 2531.4V2609.0M1803.5 2504.2V2628.0M1878.5 2360.4V2397.6M1921.3 2437.0V2540.0M1964.2 2386.1V2488.7" stroke="#000" stroke-width="4.0" fill="none"/><path d="M1228.6 2525.1h15M1228.6 2598.7h15M1271.4 2441.7h15M1271.4 2590.7h15M1314.2 2403.4h15M1314.2 2516.0h15M1389.2 2550.7h15M1389.2 2604.3h15M1432.0 2550.7h15M1432.0 2657.1h15M1474.8 2574.9h15M1474.8 2623.1h15M1549.8 2541.3h15M1549.8 2573.7h15M1592.6 2493.7h15M1592.6 2523.9h15M1635.5 2557.3h15M1635.5 2629.1h15M1710.4 2542.6h15M1710.4 2593.8h15M1753.2 2531.4h15M1753.2 2609.0h15M1796.0 2504.2h15M1796.0 2628.0h15M1871.0 2360.4h15M1871.0 2397.6h15M1913.8 2437.0h15M1913.8 2540.0h15M1956.7 2386.1h15M1956.7 2488.7h15" stroke="#000" stroke-width="3.4" fill="none"/><text x="1236.1" y="2516.5" font-size="32" text-anchor="middle">bc</text><text x="1278.9" y="2433.1" font-size="32" text-anchor="middle">abc</text><text x="1321.8" y="2394.8" font-size="32" text-anchor="middle">abc</text><text x="1396.7" y="2542.1" font-size="32" text-anchor="middle">bc</text><text x="1439.5" y="2542.1" font-size="32" text-anchor="middle">c</text><text x="1482.3" y="2566.3" font-size="32" text-anchor="middle">c</text><text x="1557.3" y="2532.7" font-size="32" text-anchor="middle">bc</text><text x="1600.1" y="2485.1" font-size="32" text-anchor="middle">abc</text><text x="1643.0" y="2548.7" font-size="32" text-anchor="middle">c</text><text x="1717.9" y="2534.0" font-size="32" text-anchor="middle">bc</text><text x="1760.7" y="2522.8" font-size="32" text-anchor="middle">bc</text><text x="1803.5" y="2495.6" font-size="32" text-anchor="middle">bc</text><text x="1878.5" y="2351.8" font-size="32" text-anchor="middle">a</text><text x="1921.3" y="2428.4" font-size="32" text-anchor="middle">abc</text><text x="1964.2" y="2377.5" font-size="32" text-anchor="middle">ab</text></g>
<text transform="translate(82.4 3244.0) rotate(-90)" font-size="52" text-anchor="middle">Area (ºCd)</text>
<g><rect x="257.7" y="3104.8" width="42.9" height="435.0" fill="#ffffff" stroke="#606060" stroke-width="1.6"/><rect x="300.6" y="3037.4" width="42.9" height="502.4" fill="#ff0000" stroke="#5a1010" stroke-width="1.2"/><rect x="343.4" y="3073.7" width="42.9" height="466.1" fill="#0000ff" stroke="#10105a" stroke-width="1.2"/><rect x="418.3" y="3167.5" width="42.9" height="372.3" fill="#ffffff" stroke="#606060" stroke-width="1.6"/><rect x="461.2" y="3036.0" width="42.9" height="503.8" fill="#ff0000" stroke="#5a1010" stroke-width="1.2"/><rect x="504.0" y="3051.6" width="42.9" height="488.2" fill="#0000ff" stroke="#10105a" stroke-width="1.2"/><rect x="578.9" y="3171.7" width="42.9" height="368.1" fill="#ffffff" stroke="#606060" stroke-width="1.6"/><rect x="621.8" y="3122.4" width="42.9" height="417.4" fill="#ff0000" stroke="#5a1010" stroke-width="1.2"/><rect x="664.6" y="3147.7" width="42.9" height="392.1" fill="#0000ff" stroke="#10105a" stroke-width="1.2"/><rect x="739.5" y="3182.1" width="42.9" height="357.7" fill="#ffffff" stroke="#606060" stroke-width="1.6"/><rect x="782.4" y="3128.6" width="42.9" height="411.2" fill="#ff0000" stroke="#5a1010" stroke-width="1.2"/><rect x="825.2" y="3168.8" width="42.9" height="371.0" fill="#0000ff" stroke="#10105a" stroke-width="1.2"/><rect x="900.1" y="3209.0" width="42.9" height="330.8" fill="#ffffff" stroke="#606060" stroke-width="1.6"/><rect x="943.0" y="3160.8" width="42.9" height="379.0" fill="#ff0000" stroke="#5a1010" stroke-width="1.2"/><rect x="985.8" y="3193.3" width="42.9" height="346.5" fill="#0000ff" stroke="#10105a" stroke-width="1.2"/><path d="M230.0 2948.2H241.5V3539.8H1046.0" fill="none" stroke="#4a4a4a" stroke-width="3.0" stroke-linecap="butt" stroke-linejoin="miter"/><path d="M230.0 3066.5H241.5M230.0 3184.8H241.5M230.0 3303.2H241.5M230.0 3421.5H241.5M230.0 3539.8H241.5M322.0 3539.8v12.1M482.6 3539.8v12.1M643.2 3539.8v12.1M803.8 3539.8v12.1M964.4 3539.8v12.1" stroke="#4a4a4a" stroke-width="3.0" fill="none"/><text transform="translate(220.6 2962.5) scale(1 1.03)" font-size="40" text-anchor="end">25,000</text><text transform="translate(220.6 3080.8) scale(1 1.03)" font-size="40" text-anchor="end">20,000</text><text transform="translate(220.6 3199.1) scale(1 1.03)" font-size="40" text-anchor="end">15,000</text><text transform="translate(220.6 3317.5) scale(1 1.03)" font-size="40" text-anchor="end">10,000</text><text transform="translate(220.6 3435.8) scale(1 1.03)" font-size="40" text-anchor="end">5000</text><text transform="translate(220.6 3554.1) scale(1 1.03)" font-size="40" text-anchor="end">0</text><text transform="translate(322.0 3590.2) scale(1 1.03)" font-size="40" text-anchor="middle">NPK</text><text transform="translate(482.6 3590.2) scale(1 1.03)" font-size="40" text-anchor="middle">25%M</text><text transform="translate(643.2 3590.2) scale(1 1.03)" font-size="40" text-anchor="middle">50%M</text><text transform="translate(803.8 3590.2) scale(1 1.03)" font-size="40" text-anchor="middle">75%M</text><text transform="translate(964.4 3590.2) scale(1 1.03)" font-size="40" text-anchor="middle">100%M</text><path d="M279.1 3084.6V3125.0M322.0 3031.5V3043.3M364.9 3071.9V3075.5M439.8 3159.2V3175.8M482.6 3027.4V3044.6M525.5 3044.2V3059.0M600.4 3162.1V3181.3M643.2 3114.0V3130.8M686.1 3128.4V3167.0M760.9 3169.7V3194.5M803.8 3117.2V3140.0M846.6 3162.3V3175.3M921.5 3200.0V3218.0M964.4 3146.1V3175.5M1007.2 3182.4V3204.2" stroke="#000" stroke-width="4.0" fill="none"/><path d="M271.6 3084.6h15M271.6 3125.0h15M314.5 3031.5h15M314.5 3043.3h15M357.4 3071.9h15M357.4 3075.5h15M432.2 3159.2h15M432.2 3175.8h15M475.1 3027.4h15M475.1 3044.6h15M518.0 3044.2h15M518.0 3059.0h15M592.9 3162.1h15M592.9 3181.3h15M635.7 3114.0h15M635.7 3130.8h15M678.6 3128.4h15M678.6 3167.0h15M753.4 3169.7h15M753.4 3194.5h15M796.3 3117.2h15M796.3 3140.0h15M839.1 3162.3h15M839.1 3175.3h15M914.0 3200.0h15M914.0 3218.0h15M956.9 3146.1h15M956.9 3175.5h15M999.8 3182.4h15M999.8 3204.2h15" stroke="#000" stroke-width="3.4" fill="none"/><text x="279.1" y="3076.0" font-size="32" text-anchor="middle">cd</text><text x="322.0" y="3022.9" font-size="32" text-anchor="middle">a</text><text x="364.9" y="3063.3" font-size="32" text-anchor="middle">bc</text><text x="439.8" y="3150.6" font-size="32" text-anchor="middle">gh</text><text x="482.6" y="3018.8" font-size="32" text-anchor="middle">a</text><text x="525.5" y="3035.6" font-size="32" text-anchor="middle">ab</text><text x="600.4" y="3153.5" font-size="32" text-anchor="middle">gh</text><text x="643.2" y="3105.4" font-size="32" text-anchor="middle">de</text><text x="686.1" y="3119.8" font-size="32" text-anchor="middle">efg</text><text x="760.9" y="3161.1" font-size="32" text-anchor="middle">ghi</text><text x="803.8" y="3108.6" font-size="32" text-anchor="middle">def</text><text x="846.6" y="3153.7" font-size="32" text-anchor="middle">gh</text><text x="921.5" y="3191.4" font-size="32" text-anchor="middle">i</text><text x="964.4" y="3137.5" font-size="32" text-anchor="middle">fgh</text><text x="1007.2" y="3173.8" font-size="32" text-anchor="middle">hi</text></g>
<g><rect x="1214.6" y="3138.2" width="42.9" height="401.6" fill="#ffffff" stroke="#606060" stroke-width="1.6"/><rect x="1257.5" y="3042.1" width="42.9" height="497.7" fill="#ff0000" stroke="#5a1010" stroke-width="1.2"/><rect x="1300.3" y="3042.7" width="42.9" height="497.1" fill="#0000ff" stroke="#10105a" stroke-width="1.2"/><rect x="1375.2" y="3115.8" width="42.9" height="424.0" fill="#ffffff" stroke="#606060" stroke-width="1.6"/><rect x="1418.1" y="3077.5" width="42.9" height="462.3" fill="#ff0000" stroke="#5a1010" stroke-width="1.2"/><rect x="1460.9" y="3103.4" width="42.9" height="436.4" fill="#0000ff" stroke="#10105a" stroke-width="1.2"/><rect x="1535.8" y="3134.4" width="42.9" height="405.4" fill="#ffffff" stroke="#606060" stroke-width="1.6"/><rect x="1578.7" y="3137.1" width="42.9" height="402.7" fill="#ff0000" stroke="#5a1010" stroke-width="1.2"/><rect x="1621.5" y="3137.0" width="42.9" height="402.8" fill="#0000ff" stroke="#10105a" stroke-width="1.2"/><rect x="1696.4" y="3137.5" width="42.9" height="402.3" fill="#ffffff" stroke="#606060" stroke-width="1.6"/><rect x="1739.3" y="3151.0" width="42.9" height="388.8" fill="#ff0000" stroke="#5a1010" stroke-width="1.2"/><rect x="1782.1" y="3116.5" width="42.9" height="423.3" fill="#0000ff" stroke="#10105a" stroke-width="1.2"/><rect x="1857.0" y="3183.0" width="42.9" height="356.8" fill="#ffffff" stroke="#606060" stroke-width="1.6"/><rect x="1899.9" y="3174.5" width="42.9" height="365.3" fill="#ff0000" stroke="#5a1010" stroke-width="1.2"/><rect x="1942.7" y="3169.8" width="42.9" height="370.0" fill="#0000ff" stroke="#10105a" stroke-width="1.2"/><path d="M1186.8 2948.2H1198.3V3539.8H2002.3" fill="none" stroke="#4a4a4a" stroke-width="3.0" stroke-linecap="butt" stroke-linejoin="miter"/><path d="M1186.8 3066.5H1198.3M1186.8 3184.8H1198.3M1186.8 3303.2H1198.3M1186.8 3421.5H1198.3M1186.8 3539.8H1198.3M1278.9 3539.8v12.1M1439.5 3539.8v12.1M1600.1 3539.8v12.1M1760.7 3539.8v12.1M1921.3 3539.8v12.1" stroke="#4a4a4a" stroke-width="3.0" fill="none"/><text transform="translate(1278.9 3590.2) scale(1 1.03)" font-size="40" text-anchor="middle">NPK</text><text transform="translate(1439.5 3590.2) scale(1 1.03)" font-size="40" text-anchor="middle">25%M</text><text transform="translate(1600.1 3590.2) scale(1 1.03)" font-size="40" text-anchor="middle">50%M</text><text transform="translate(1760.7 3590.2) scale(1 1.03)" font-size="40" text-anchor="middle">75%M</text><text transform="translate(1921.3 3590.2) scale(1 1.03)" font-size="40" text-anchor="middle">100%M</text><path d="M1236.1 3118.5V3157.9M1278.9 3034.5V3049.7M1321.8 3030.4V3055.0M1396.7 3110.5V3121.1M1439.5 3053.1V3101.9M1482.3 3086.9V3119.9M1557.3 3124.4V3144.4M1600.1 3104.6V3169.6M1643.0 3126.1V3147.9M1717.9 3133.5V3141.5M1760.7 3140.8V3161.2M1803.5 3084.8V3148.2M1878.5 3169.4V3196.6M1921.3 3162.4V3186.6M1964.2 3163.5V3176.1" stroke="#000" stroke-width="4.0" fill="none"/><path d="M1228.6 3118.5h15M1228.6 3157.9h15M1271.4 3034.5h15M1271.4 3049.7h15M1314.2 3030.4h15M1314.2 3055.0h15M1389.2 3110.5h15M1389.2 3121.1h15M1432.0 3053.1h15M1432.0 3101.9h15M1474.8 3086.9h15M1474.8 3119.9h15M1549.8 3124.4h15M1549.8 3144.4h15M1592.6 3104.6h15M1592.6 3169.6h15M1635.5 3126.1h15M1635.5 3147.9h15M1710.4 3133.5h15M1710.4 3141.5h15M1753.2 3140.8h15M1753.2 3161.2h15M1796.0 3084.8h15M1796.0 3148.2h15M1871.0 3169.4h15M1871.0 3196.6h15M1913.8 3162.4h15M1913.8 3186.6h15M1956.7 3163.5h15M1956.7 3176.1h15" stroke="#000" stroke-width="3.4" fill="none"/><text x="1236.1" y="3109.9" font-size="32" text-anchor="middle">cde</text><text x="1278.9" y="3025.9" font-size="32" text-anchor="middle">a</text><text x="1321.8" y="3021.8" font-size="32" text-anchor="middle">a</text><text x="1396.7" y="3101.9" font-size="32" text-anchor="middle">bcd</text><text x="1439.5" y="3044.5" font-size="32" text-anchor="middle">ab</text><text x="1482.3" y="3078.3" font-size="32" text-anchor="middle">bc</text><text x="1557.3" y="3115.8" font-size="32" text-anchor="middle">cde</text><text x="1600.1" y="3096.0" font-size="32" text-anchor="middle">cde</text><text x="1643.0" y="3117.5" font-size="32" text-anchor="middle">cde</text><text x="1707.9" y="3117.3" font-size="32" text-anchor="middle">cde</text><text x="1757.7" y="3126.7" font-size="32" text-anchor="middle">cde</text><text x="1803.5" y="3076.2" font-size="32" text-anchor="middle">bcd</text><text x="1878.5" y="3160.8" font-size="32" text-anchor="middle">e</text><text x="1921.3" y="3153.8" font-size="32" text-anchor="middle">e</text><text x="1964.2" y="3154.9" font-size="32" text-anchor="middle">de</text></g>
<rect x="720.5" y="248.8" width="69.5" height="33.6" fill="#ffffff" stroke="#606060" stroke-width="1.5"/>
<text x="800.3" y="276.3" font-size="32">Zhongmai 578</text>
<rect x="720.5" y="289.2" width="69.5" height="33.6" fill="#ff0000" stroke="#5a1010" stroke-width="1.5"/>
<text x="800.3" y="316.4" font-size="32">Weilong 169</text>
<rect x="720.5" y="329.6" width="69.5" height="33.6" fill="#0000ff" stroke="#10105a" stroke-width="1.5"/>
<text x="800.3" y="356.5" font-size="32">Xiaoyan 22</text>
</svg>
</body></html>
